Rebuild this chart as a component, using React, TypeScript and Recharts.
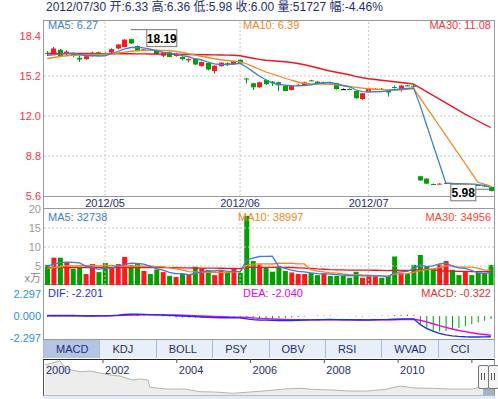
import React from "react";
import {
  ComposedChart,
  AreaChart,
  LineChart,
  Area,
  Bar,
  Line,
  XAxis,
  YAxis,
  ReferenceLine,
  ReferenceDot,
  Cell,
} from "recharts";

const FONT = "'Liberation Sans', Arial, 'Noto Sans CJK SC', sans-serif";
const RED = "#ff1a1a";
const GREEN = "#00a000";
const NAVY = "#1f2d7a";
const C_MA5 = "#3d7ed6";
const C_MA10 = "#f5861f";
const C_MA30 = "#f0141e";
const GRID = "#c8c8c8";
const FRAME = "#9a9a9a";

// daily candles, 2012/04 .. 2012/07/30
const opens = [
  17.05, 17.0, 17.3, 16.99, 17.05, 16.65, 16.55, 16.8, 17.1, 17.05,
  17.07, 17.4, 17.52, 18.15, 17.6, 17.3, 17.32, 17.25, 16.82, 17.1,
  16.8, 16.72, 16.45, 16.58, 16.0, 16.24, 15.6, 15.98, 16.22, 16.12,
  16.5, 15.0, 14.62, 14.3, 14.88, 14.75, 14.7, 14.43, 14.08, 14.45,
  14.43, 14.85, 14.75, 14.58, 14.7, 14.62, 14.15, 14.16, 14.0, 13.36,
  13.9, 14.15, 14.18, 14.0, 14.32, 14.08, 14.45, 14.42, 7.18, 6.99,
  6.56, 6.56, 6.6, 6.62, 6.58, 6.5, 6.5, 6.48, 6.46, 6.33,
];
const highs = [
  17.2, 17.52, 17.35, 17.26, 17.1, 16.86, 16.85, 17.15, 17.15, 17.1,
  17.42, 17.75, 18.15, 18.19, 17.65, 17.38, 17.38, 17.3, 17.1, 17.15,
  17.05, 16.78, 16.62, 16.62, 16.35, 16.3, 16.05, 16.3, 16.3, 16.42,
  16.55, 15.05, 14.66, 14.75, 14.92, 14.8, 14.75, 14.48, 14.45, 14.55,
  14.75, 14.9, 14.8, 14.76, 14.75, 14.65, 14.2, 14.22, 14.05, 13.85,
  14.2, 14.22, 14.24, 14.05, 14.45, 14.48, 14.5, 14.55, 7.22, 7.02,
  6.6, 6.62, 6.66, 6.66, 6.62, 6.58, 6.54, 6.52, 6.48, 6.36,
];
const lows = [
  16.8, 16.94, 16.75, 16.86, 16.7, 16.32, 16.5, 16.75, 16.8, 16.98,
  17.0, 17.35, 17.5, 17.75, 17.15, 17.25, 17.18, 16.9, 16.7, 16.7,
  16.75, 16.45, 16.3, 16.08, 15.95, 15.65, 15.4, 15.95, 16.0, 16.08,
  16.15, 14.6, 14.08, 14.25, 14.48, 14.4, 13.98, 13.98, 14.05, 14.42,
  14.4, 14.78, 14.55, 14.55, 14.6, 14.12, 14.08, 14.08, 13.4, 13.3,
  13.88, 14.1, 14.1, 13.55, 14.2, 13.95, 14.38, 14.3, 6.82, 6.55,
  6.48, 6.52, 6.56, 6.52, 6.5, 6.46, 6.42, 6.4, 6.34, 5.98,
];
const closes = [
  16.98, 17.4, 16.78, 17.15, 16.8, 16.52, 16.78, 17.07, 16.86, 17.02,
  17.35, 17.72, 18.11, 17.8, 17.2, 17.33, 17.25, 16.95, 17.05, 16.72,
  16.98, 16.55, 16.55, 16.12, 16.32, 15.72, 16.03, 16.27, 16.18, 16.38,
  16.2, 14.95, 14.3, 14.7, 14.55, 14.65, 14.45, 14.0, 14.43, 14.5,
  14.7, 14.82, 14.58, 14.72, 14.66, 14.15, 14.15, 14.12, 13.42, 13.82,
  14.16, 14.18, 14.14, 13.88, 14.28, 14.43, 14.42, 14.38, 6.85, 6.59,
  6.53, 6.59, 6.64, 6.58, 6.55, 6.54, 6.46, 6.44, 6.36, 6.0,
];
const priceMA5 = [
  16.86, 16.9, 16.95, 17.0, 17.0, 16.93, 16.82, 16.84, 16.8, 16.82,
  16.98, 17.16, 17.36, 17.48, 17.5, 17.45, 17.35, 17.22, 17.1, 17.02,
  16.95, 16.83, 16.74, 16.58, 16.48, 16.3, 16.17, 16.12, 16.12, 16.17,
  16.2, 15.92, 15.55, 15.2, 14.9, 14.63, 14.53, 14.47, 14.42, 14.41,
  14.44, 14.5, 14.6, 14.66, 14.68, 14.57, 14.44, 14.34, 14.1, 13.95,
  13.93, 13.94, 13.95, 14.02, 14.1, 14.16, 14.2, 14.25, 12.85, 11.3,
  9.75, 8.2, 6.64, 6.6, 6.58, 6.57, 6.54, 6.5, 6.45, 6.27,
];
const priceMA10 = [
  16.6, 16.68, 16.76, 16.82, 16.86, 16.88, 16.9, 16.92, 16.93, 16.95,
  16.98, 17.04, 17.11, 17.18, 17.22, 17.25, 17.26, 17.26, 17.25, 17.22,
  17.17, 17.08, 16.98, 16.88, 16.78, 16.68, 16.58, 16.5, 16.44, 16.39,
  16.33, 16.18, 15.95, 15.74, 15.52, 15.36, 15.2, 15.02, 14.86, 14.72,
  14.62, 14.57, 14.55, 14.55, 14.53, 14.49, 14.44, 14.36, 14.29, 14.23,
  14.18, 14.14, 14.11, 14.09, 14.08, 14.1, 14.14, 14.2, 13.45, 12.7,
  11.95, 11.2, 10.45, 9.7, 8.95, 8.2, 7.45, 6.7, 6.55, 6.39,
];
const priceMA30 = [
  17.0, 17.0, 17.0, 17.0, 17.0, 17.0, 17.0, 16.99, 16.99, 16.98,
  16.98, 16.98, 16.98, 16.98, 16.97, 16.97, 16.96, 16.96, 16.95, 16.95,
  16.94, 16.93, 16.92, 16.92, 16.91, 16.9, 16.89, 16.88, 16.87, 16.86,
  16.82, 16.72, 16.62, 16.53, 16.46, 16.42, 16.38, 16.34, 16.28, 16.2,
  16.1, 15.98, 15.86, 15.72, 15.6, 15.5, 15.4, 15.3, 15.17, 15.06,
  14.98, 14.92, 14.86, 14.8, 14.74, 14.68, 14.62, 14.55, 14.25, 13.95,
  13.65, 13.35, 13.05, 12.75, 12.45, 12.15, 11.88, 11.6, 11.33, 11.08,
];

// volume in units of 10k (x万)
const volumes = [
  5.3, 7.2, 7.2, 5.9, 4.3, 4.5, 2.9, 5.5, 3.4, 5.8,
  4.7, 5.5, 7.4, 5.3, 5.5, 3.7, 2.9, 4.1, 3.4, 2.4,
  2.1, 2.9, 2.7, 4.8, 4.4, 3.9, 2.6, 3.9, 3.2, 4.4,
  3.2, 18.2, 6.3, 5.4, 4.6, 3.5, 4.6, 3.7, 3.3, 2.9,
  2.9, 3.2, 2.6, 3.1, 2.4, 2.4, 2.4, 1.9, 3.5, 1.9,
  2.3, 2.3, 1.9, 2.4, 7.5, 3.2, 2.9, 5.3, 7.9, 5.0,
  4.1, 5.4, 6.3, 4.0, 2.6, 3.6, 2.6, 3.2, 3.0, 5.3,
];
const volMA5 = [
  5.0, 5.5, 5.9, 6.0, 5.98, 5.82, 4.96, 4.62, 4.12, 4.42,
  4.46, 4.98, 5.36, 5.74, 5.68, 5.48, 4.96, 4.3, 3.92, 3.3,
  2.98, 2.98, 2.7, 2.98, 3.38, 3.74, 3.68, 3.92, 3.6, 3.6,
  3.46, 6.58, 7.06, 7.5, 7.54, 7.6, 4.88, 4.36, 3.94, 3.6,
  3.48, 3.2, 2.98, 2.94, 2.84, 2.74, 2.58, 2.44, 2.52, 2.42,
  2.4, 2.38, 2.38, 2.16, 3.28, 3.46, 3.58, 4.26, 5.36, 4.86,
  5.04, 5.54, 5.74, 4.96, 4.48, 4.38, 3.82, 3.2, 3.0, 3.27,
];
const volMA10 = [
  4.4, 4.6, 4.8, 5.0, 5.0, 5.1, 5.1, 5.1, 5.0, 5.1,
  5.14, 4.97, 4.99, 4.93, 5.05, 4.97, 4.97, 4.83, 4.83, 4.49,
  4.23, 3.97, 3.5, 3.45, 3.34, 3.36, 3.33, 3.31, 3.29, 3.49,
  3.6, 5.13, 5.49, 5.55, 5.57, 5.53, 5.73, 5.71, 5.72, 5.57,
  5.54, 4.04, 3.67, 3.44, 3.22, 3.11, 2.89, 2.71, 2.73, 2.63,
  2.57, 2.48, 2.41, 2.34, 2.85, 2.93, 2.98, 3.32, 3.76, 4.07,
  4.25, 4.56, 5.0, 5.16, 4.67, 4.71, 4.68, 4.47, 3.98, 3.9,
];
const volMA30 = [
  4.6, 4.6, 4.6, 4.6, 4.6, 4.6, 4.6, 4.6, 4.6, 4.6,
  4.6, 4.6, 4.6, 4.6, 4.6, 4.6, 4.6, 4.58, 4.56, 4.55,
  4.54, 4.52, 4.5, 4.48, 4.46, 4.44, 4.42, 4.41, 4.4, 4.39,
  4.32, 4.69, 4.66, 4.64, 4.65, 4.62, 4.68, 4.62, 4.61, 4.52,
  4.46, 4.38, 4.22, 4.15, 4.04, 4.0, 3.98, 3.91, 3.91, 3.9,
  3.9, 3.88, 3.86, 3.78, 3.88, 3.86, 3.87, 3.91, 4.07, 4.09,
  4.12, 3.69, 3.69, 3.65, 3.58, 3.58, 3.52, 3.5, 3.49, 3.5,
];

// MACD
const dif = [
  0.02, 0.03, 0.03, 0.04, 0.03, 0.02, 0.0, 0.0, 0.01, 0.01,
  0.04, 0.09, 0.16, 0.19, 0.18, 0.17, 0.15, 0.12, 0.1, 0.07,
  0.03, 0.0, -0.03, -0.07, -0.1, -0.14, -0.17, -0.18, -0.19, -0.19,
  -0.2, -0.3, -0.38, -0.42, -0.44, -0.46, -0.47, -0.48, -0.47, -0.45,
  -0.43, -0.41, -0.39, -0.38, -0.37, -0.38, -0.39, -0.4, -0.42, -0.43,
  -0.42, -0.4, -0.38, -0.37, -0.34, -0.32, -0.3, -0.3, -0.9, -1.3,
  -1.6, -1.84, -2.0, -2.1, -2.16, -2.2, -2.22, -2.22, -2.21, -2.201,
];
const dea = [
  0.06, 0.06, 0.05, 0.05, 0.05, 0.04, 0.04, 0.03, 0.03, 0.03,
  0.03, 0.04, 0.07, 0.09, 0.11, 0.12, 0.13, 0.13, 0.12, 0.11,
  0.1, 0.08, 0.06, 0.03, 0.0, -0.03, -0.06, -0.08, -0.1, -0.12,
  -0.13, -0.16, -0.2, -0.25, -0.29, -0.32, -0.35, -0.37, -0.39, -0.4,
  -0.41, -0.41, -0.41, -0.4, -0.4, -0.39, -0.39, -0.39, -0.4, -0.4,
  -0.41, -0.41, -0.4, -0.4, -0.39, -0.38, -0.37, -0.35, -0.45, -0.62,
  -0.82, -1.02, -1.2, -1.38, -1.53, -1.66, -1.78, -1.88, -1.96, -2.04,
];
const macdHist = [
  -0.08, -0.06, -0.04, -0.02, -0.04, -0.04, -0.08, -0.06, -0.04, -0.04,
  0.02, 0.1, 0.18, 0.2, 0.14, 0.1, 0.04, -0.02, -0.04, -0.08,
  -0.14, -0.16, -0.18, -0.2, -0.2, -0.22, -0.22, -0.2, -0.18, -0.14,
  -0.14, -0.28, -0.36, -0.34, -0.3, -0.28, -0.24, -0.22, -0.16, -0.1,
  -0.04, 0.0, 0.04, 0.04, 0.06, 0.02, 0.0, -0.02, -0.04, -0.06,
  -0.02, 0.02, 0.04, 0.06, 0.1, 0.12, 0.14, 0.1, -0.9, -1.36,
  -1.56, -1.64, -1.6, -1.44, -1.26, -1.08, -0.88, -0.68, -0.5, -0.322,
];

const monthTicks = [9, 30, 50];
const monthLabels = ["2012/05", "2012/06", "2012/07"];
const priceTicks = [5.6, 8.8, 12.0, 15.2, 18.4];
const priceGrid = [8.8, 12.0, 15.2];
const volTicks = [5, 10, 15, 20];
const volGrid = [5, 10, 15];
const macdTicks = [-2.297, 0, 2.297];
const tabs = ["MACD", "KDJ", "BOLL", "PSY", "OBV", "RSI", "WVAD", "CCI"];

// long-history navigator
const navYears = [
  2000.43, 2000.62, 2000.83, 2000.94, 2001.02, 2001.38, 2001.65, 2001.92, 2002.19, 2002.46,
  2002.81, 2003.0, 2003.22, 2003.27, 2003.73, 2004.22, 2004.63, 2005.03, 2005.52, 2005.98,
  2006.44, 2006.93, 2007.34, 2007.74, 2008.23, 2008.69, 2009.15, 2009.64, 2010.05, 2010.45,
  2010.94, 2011.4, 2012.03, 2012.32, 2012.49, 2012.6,
];
const navValues = [
  30, 32, 34.3, 29, 26, 23.3, 24, 22, 20, 19,
  15, 16, 15, 7.7, 6, 6, 3.3, 3, 1.7, 3,
  4.3, 6, 6.7, 5.5, 5, 4, 4, 5.5, 9, 7,
  6.7, 6, 6, 9, 5, 5,
];
const yearTicks = [2000.4, 2002, 2004, 2006, 2008, 2010, 2012];

const rows = opens.map((open, i) => ({
  i,
  open,
  high: highs[i],
  low: lows[i],
  close: closes[i],
  range: [lows[i], highs[i]],
  ma5: priceMA5[i],
  ma10: priceMA10[i],
  ma30: priceMA30[i],
  vol: volumes[i],
  vma5: volMA5[i],
  vma10: volMA10[i],
  vma30: volMA30[i],
  dif: dif[i],
  dea: dea[i],
  macd: macdHist[i],
}));

const navRows = navYears.map((year, k) => ({ year, v: navValues[k] }));

const last = rows[rows.length - 1];
const maxIdx = highs.indexOf(Math.max(...highs));
const minIdx = lows.indexOf(Math.min(...lows));

function Candle(props: any) {
  const { x, y, width, height, payload } = props;
  if (x == null || payload == null) return null;
  const { open, close, high, low } = payload;
  const color = close > open ? RED : close < open ? GREEN : "#000";
  const top = Math.min(y, y + height);
  const h = Math.abs(height);
  const span = high - low;
  const toY = (v: number) => (span > 0 ? top + ((high - v) / span) * h : top);
  const bTop = toY(Math.max(open, close));
  const bBot = toY(Math.min(open, close));
  const left = Math.round(x);
  const cx = left + Math.floor(width / 2) + 0.5;
  return (
    <g>
      <line x1={cx} x2={cx} y1={top} y2={top + h} stroke={color} strokeWidth={1} />
      <rect x={left} y={bTop} width={Math.round(width)} height={Math.max(1, bBot - bTop)} fill={color} />
    </g>
  );
}

function HighMark(props: any) {
  const { cx, cy } = props;
  return (
    <g>
      <line x1={cx} y1={cy - 9} x2={cx + 16} y2={cy - 9} stroke="#777" />
      <rect x={cx + 16} y={cy - 9} width={30} height={17} fill="#fff" stroke="#777" />
      <text x={cx + 31} y={cy + 4} textAnchor="middle" fontSize={12} fontWeight="bold" fill="#000">
        {highs[maxIdx].toFixed(2)}
      </text>
    </g>
  );
}

function LowMark(props: any) {
  const { cx, cy } = props;
  return (
    <g>
      <line x1={cx - 15} y1={cy - 2} x2={cx} y2={cy - 2} stroke="#777" />
      <rect x={cx - 40} y={cy - 7} width={25} height={16.5} fill="#fff" stroke="#777" />
      <text x={cx - 27.5} y={cy + 6} textAnchor="middle" fontSize={12} fontWeight="bold" fill="#000">
        {lows[minIdx].toFixed(2)}
      </text>
    </g>
  );
}

function YearTick(props: any) {
  const { x, payload } = props;
  const v = payload.value;
  const label = v === 2012 ? "" : String(Math.floor(v));
  return (
    <g>
      {v > 2001 && <line x1={x} x2={x} y1={0} y2={4} stroke="#555" />}
      <text x={x + 2} y={15} fontSize={11} fill={NAVY}>
        {label}
      </text>
    </g>
  );
}

const txt = (style: React.CSSProperties): React.CSSProperties => ({
  position: "absolute",
  fontSize: 11,
  lineHeight: "11px",
  whiteSpace: "nowrap",
  ...style,
});

const hLine = (top: number, color = FRAME): React.CSSProperties => ({
  position: "absolute",
  left: 43,
  top,
  width: 452,
  height: 1,
  background: color,
});

export default function App() {
  const monthFmt = (v: number) => monthLabels[monthTicks.indexOf(v)] ?? "";
  const vLines = (key: string) =>
    monthTicks.map((m) => (
      <ReferenceLine key={key + m} x={m} stroke={GRID} strokeDasharray="2 2" />
    ));

  return (
    <div
      style={{
        position: "absolute",
        left: 0,
        top: 0,
        width: 498,
        height: 399,
        background: "#fff",
        fontFamily: FONT,
        overflow: "hidden",
      }}
    >
      {/* title */}
      <div style={txt({ left: 46, top: 1, fontSize: 12, lineHeight: "12px", color: NAVY })}>
        2012/07/30 开:6.33 高:6.36 低:5.98 收:6.00 量:51727 幅:-4.46%
      </div>

      {/* panel frame */}
      <div
        style={{
          position: "absolute",
          left: 43,
          top: 20,
          width: 452,
          height: 320,
          border: `1px solid ${FRAME}`,
          boxSizing: "border-box",
        }}
      />
      <div style={hLine(196)} />
      <div style={hLine(208)} />
      <div style={hLine(284)} />

      {/* price panel */}
      <div style={{ position: "absolute", left: 0, top: 14 }}>
        <ComposedChart
          width={498}
          height={196}
          data={rows}
          margin={{ top: 6, right: 4, bottom: 0, left: 0 }}
          barSize={5}
        >
          <XAxis
            dataKey="i"
            ticks={monthTicks}
            interval={0}
            tickFormatter={monthFmt}
            axisLine={false}
            tickLine={false}
            tickSize={0}
            tickMargin={3}
            height={14}
            tick={{ fontSize: 11, fill: NAVY }}
          />
          <YAxis
            domain={[5.6, 19.68]}
            ticks={priceTicks}
            width={44}
            axisLine={false}
            tickLine={false}
            tickSize={0}
            tickMargin={3}
            allowDataOverflow
            tickFormatter={(v: number) => v.toFixed(1)}
            tick={{ fontSize: 11, fill: "#ff3344" }}
          />
          {priceGrid.map((g) => (
            <ReferenceLine key={"pg" + g} y={g} stroke={GRID} strokeDasharray="2 2" />
          ))}
          {vLines("pv")}
          <Bar dataKey="range" shape={<Candle />} isAnimationActive={false} />
          <Line dataKey="ma30" stroke={C_MA30} strokeWidth={1.3} dot={false} isAnimationActive={false} />
          <Line dataKey="ma10" stroke={C_MA10} strokeWidth={1.3} dot={false} isAnimationActive={false} />
          <Line dataKey="ma5" stroke={C_MA5} strokeWidth={1.3} dot={false} isAnimationActive={false} />
          <ReferenceDot x={maxIdx} y={highs[maxIdx]} r={0} shape={(p: any) => <HighMark {...p} />} />
          <ReferenceDot x={minIdx} y={lows[minIdx]} r={0} shape={(p: any) => <LowMark {...p} />} />
        </ComposedChart>
      </div>
      <div style={txt({ left: 48, top: 20, color: C_MA5 })}>MA5: {last.ma5.toFixed(2)}</div>
      <div style={txt({ left: 243, top: 20, color: C_MA10 })}>MA10: {last.ma10.toFixed(2)}</div>
      <div style={txt({ right: 7, top: 20, color: "#ff3344" })}>MA30: {last.ma30.toFixed(2)}</div>

      {/* volume panel */}
      <div style={{ position: "absolute", left: 0, top: 200 }}>
        <ComposedChart
          width={498}
          height={86}
          data={rows}
          margin={{ top: 9, right: 4, bottom: 1, left: 0 }}
          barSize={5}
        >
          <XAxis dataKey="i" hide />
          <YAxis
            domain={[0, 20]}
            ticks={volTicks}
            width={44}
            axisLine={false}
            tickLine={false}
            tickSize={0}
            tickMargin={3}
            tick={{ fontSize: 11, fill: "#9a9a9a" }}
          />
          {volGrid.map((g) => (
            <ReferenceLine key={"vg" + g} y={g} stroke={GRID} strokeDasharray="2 2" />
          ))}
          {vLines("vv")}
          <Bar dataKey="vol" isAnimationActive={false}>
            {rows.map((r) => (
              <Cell key={r.i} fill={r.close > r.open ? RED : GREEN} />
            ))}
          </Bar>
          <Line dataKey="vma30" stroke={C_MA30} strokeWidth={1.3} dot={false} isAnimationActive={false} />
          <Line dataKey="vma10" stroke={C_MA10} strokeWidth={1.3} dot={false} isAnimationActive={false} />
          <Line dataKey="vma5" stroke={C_MA5} strokeWidth={1.3} dot={false} isAnimationActive={false} />
        </ComposedChart>
      </div>
      <div style={txt({ left: 48, top: 212, color: C_MA5 })}>MA5: 32738</div>
      <div style={txt({ left: 238, top: 212, color: C_MA10 })}>MA10: 38997</div>
      <div style={txt({ right: 7, top: 212, color: "#ff4433" })}>MA30: 34956</div>
      <div style={txt({ right: 457, top: 273, color: "#888" })}>x万</div>

      {/* MACD panel */}
      <div style={{ position: "absolute", left: 0, top: 280 }}>
        <ComposedChart
          width={498}
          height={66}
          data={rows}
          margin={{ top: 5, right: 4, bottom: 7, left: 0 }}
          barSize={1}
        >
          <XAxis dataKey="i" hide />
          <YAxis
            domain={[-2.435, 3.282]}
            ticks={macdTicks}
            width={44}
            axisLine={false}
            tickLine={false}
            tickSize={0}
            tickMargin={3}
            allowDataOverflow
            tickFormatter={(v: number) => v.toFixed(3)}
            tick={{ fontSize: 11, fill: "#2a8fe0" }}
          />
          <Bar dataKey="macd" isAnimationActive={false}>
            {rows.map((r) => (
              <Cell key={r.i} fill={r.macd >= 0 ? RED : GREEN} />
            ))}
          </Bar>
          <Line dataKey="dea" stroke="#ee00ee" strokeWidth={1.4} dot={false} isAnimationActive={false} />
          <Line dataKey="dif" stroke="#1a2ef0" strokeWidth={1.4} dot={false} isAnimationActive={false} />
        </ComposedChart>
      </div>
      <div style={txt({ left: 48, top: 288, color: "#1a2ef0" })}>DIF: {last.dif.toFixed(3)}</div>
      <div style={txt({ left: 243, top: 288, color: "#ee00ee" })}>DEA: {last.dea.toFixed(3)}</div>
      <div style={txt({ right: 7, top: 288, color: "#e63030" })}>MACD: {last.macd.toFixed(3)}</div>

      {/* indicator tabs */}
      <div
        style={{
          position: "absolute",
          left: 43,
          top: 340,
          width: 452,
          height: 18,
          display: "flex",
          boxSizing: "border-box",
          borderLeft: "1px solid #a7bbdf",
        }}
      >
        {tabs.map((t, k) => (
          <div
            key={t}
            style={{
              flex: 1,
              background: k === 0 ? "#b4c5e4" : "#e9eff9",
              borderRight: "1px solid #a7bbdf",
              color: NAVY,
              fontSize: 11,
              lineHeight: "18px",
              paddingLeft: 12,
            }}
          >
            {t}
          </div>
        ))}
      </div>

      {/* navigator */}
      <div
        style={{
          position: "absolute",
          left: 43,
          top: 359,
          width: 452,
          height: 37,
          borderTop: "1px solid #222",
          borderLeft: "1px solid #555",
          borderRight: "1px solid #999",
          borderBottom: "1px solid #bbb",
          boxSizing: "border-box",
        }}
      />
      <div style={{ position: "absolute", left: 0, top: 359 }}>
        <AreaChart
          width={498}
          height={36}
          data={navRows}
          margin={{ top: 0, right: 4, bottom: 0, left: 44 }}
        >
          <XAxis dataKey="year" type="number" domain={[2000.4, 2012.6]} hide />
          <YAxis hide domain={[0, 36]} />
          <Area
            dataKey="v"
            type="linear"
            stroke="#b4b4b4"
            strokeWidth={1}
            fill="#ededed"
            fillOpacity={1}
            isAnimationActive={false}
          />
        </AreaChart>
      </div>
      {/* year axis drawn on top of the navigator area */}
      <div style={{ position: "absolute", left: 0, top: 359 }}>
        <LineChart
          width={498}
          height={36}
          data={navRows}
          margin={{ top: 0, right: 4, bottom: 0, left: 44 }}
        >
          <XAxis
            dataKey="year"
            type="number"
            domain={[2000.4, 2012.6]}
            ticks={yearTicks}
            interval={0}
            height={1}
            axisLine={false}
            tickLine={false}
            tick={<YearTick />}
          />
          <YAxis hide domain={[0, 36]} />
          <Line dataKey="v" stroke="none" dot={false} isAnimationActive={false} />
        </LineChart>
      </div>
      <div style={{ position: "absolute", left: 483, top: 388, width: 11, height: 7, background: "#9db4ca" }} />
      {[478, 488].map((hx) => (
        <div
          key={hx}
          style={{
            position: "absolute",
            left: hx,
            top: 365,
            width: 9,
            height: 22,
            border: "1px solid #777",
            borderRadius: 2,
            background: "#f6f6f6",
          }}
        >
          <div style={{ position: "absolute", left: 2, top: 7, width: 1, height: 7, background: "#555" }} />
          <div style={{ position: "absolute", left: 5, top: 7, width: 1, height: 7, background: "#555" }} />
        </div>
      ))}
      <div style={{ position: "absolute", left: 43, top: 396, width: 452, height: 3, background: "#e2eaf5" }} />
    </div>
  );
}
